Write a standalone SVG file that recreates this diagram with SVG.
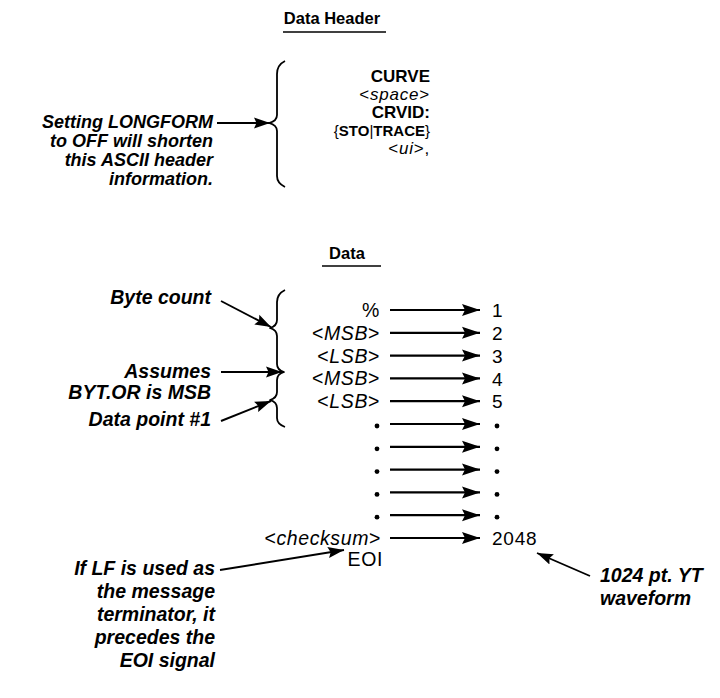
<svg xmlns="http://www.w3.org/2000/svg" width="720" height="698" viewBox="0 0 720 698">
<style>
text{font-family:"Liberation Sans",Arial,sans-serif;font-size:18px;fill:#000}
.t{font-weight:bold;font-size:16.5px}
.h{font-size:17px;text-anchor:end}
.hs{font-size:15px;text-anchor:end}
.hr{font-size:17px;text-anchor:end;letter-spacing:0.8px}
.n{font-weight:bold;font-style:italic;text-anchor:end}
.m{font-size:19.5px}
.r{text-anchor:end;font-size:19.5px;letter-spacing:0.6px}
.d{font-size:19px;letter-spacing:0.8px}
.i{font-style:italic}
.b{font-weight:bold}
.br{fill:none;stroke:#000;stroke-width:1.8;stroke-linejoin:round}
.u{stroke:#000;stroke-width:1.6}
.a{stroke:#000;stroke-width:2.2;fill:none;marker-end:url(#ah)}
.c{stroke:#000;stroke-width:1.9;fill:none;marker-end:url(#ah2)}
</style>
<defs>
<marker id="ah" markerUnits="userSpaceOnUse" markerWidth="19" markerHeight="13" refX="18" refY="6.5" orient="auto"><path d="M0,0.5 L18,6.5 L0,12.5 L3,6.5 z" fill="#000"/></marker>
<marker id="ah2" markerUnits="userSpaceOnUse" markerWidth="17" markerHeight="12" refX="16" refY="6" orient="auto"><path d="M0,0.5 L16,6 L0,11.5 L2.5,6 z" fill="#000"/></marker>
</defs>

<g id="title-header">
<text class="t" x="332" y="24" text-anchor="middle">Data Header</text>
<line class="u" x1="283" y1="32" x2="386" y2="32"/>
</g>

<g id="header-brace">
<path class="br" d="M285,61 Q277,65 277,74 L277,115 Q277,121 269,123 Q277,125 277,131 L277,176 Q277,183 285,187"/>
</g>

<g id="header-fields">
<text class="h b" x="430" y="82">CURVE</text>
<text class="hr" x="430" y="100">&lt;<tspan class="i">space</tspan>&gt;</text>
<text class="h b" x="430" y="118">CRVID:</text>
<text class="hs" x="430" y="136">{<tspan class="b">STO</tspan>|<tspan class="b">TRACE</tspan>}</text>
<text class="hr" x="430" y="154">&lt;<tspan class="i">ui</tspan>&gt;,</text>
</g>

<g id="note-longform">
<text class="n" x="213" y="128">Setting LONGFORM</text>
<text class="n" x="213" y="147">to OFF will shorten</text>
<text class="n" x="213" y="166">this ASCII header</text>
<text class="n" x="213" y="185">information.</text>
</g>

<g id="title-data">
<text class="t" x="347" y="259" text-anchor="middle">Data</text>
<line class="u" x1="322" y1="266" x2="381" y2="266"/>
</g>

<g id="data-brace">
<path class="br" d="M285,290 Q277,294 277,302 L277,320 Q277,326 270,328 Q277,330 277,336 L277,364 Q277,370 284,372 Q277,374 277,380 L277,392 Q277,398 270,400 Q277,402 277,408 L277,418 Q277,424 285,427"/>
</g>

<g id="note-bytecount"><text class="n m" x="211" y="304">Byte count</text></g>
<g id="note-bytor">
<text class="n m" x="211" y="378">Assumes</text>
<text class="n m" x="211" y="399">BYT.OR is MSB</text>
</g>
<g id="note-datapoint"><text class="n m" x="211" y="426">Data point #1</text></g>

<g id="row-labels">
<text class="r" x="380" y="317">%</text>
<text class="r" x="380" y="339.8">&lt;<tspan class="i">MSB</tspan>&gt;</text>
<text class="r" x="380" y="362.6">&lt;<tspan class="i">LSB</tspan>&gt;</text>
<text class="r" x="380" y="385.4">&lt;<tspan class="i">MSB</tspan>&gt;</text>
<text class="r" x="380" y="408.2">&lt;<tspan class="i">LSB</tspan>&gt;</text>
<circle cx="377" cy="426" r="2.4"/>
<circle cx="377" cy="448.8" r="2.4"/>
<circle cx="377" cy="471.6" r="2.4"/>
<circle cx="377" cy="494.4" r="2.4"/>
<circle cx="377" cy="517.2" r="2.4"/>
<text class="r" x="381" y="545">&lt;<tspan class="i">checksum</tspan>&gt;</text>
<text class="r" x="383" y="566" letter-spacing="0">EOI</text>
</g>

<g id="row-numbers">
<text class="d" x="492" y="317">1</text>
<text class="d" x="492" y="340">2</text>
<text class="d" x="492" y="363">3</text>
<text class="d" x="492" y="385.5">4</text>
<text class="d" x="492" y="408">5</text>
<circle cx="497" cy="426" r="2.4"/>
<circle cx="497" cy="448.8" r="2.4"/>
<circle cx="497" cy="471.6" r="2.4"/>
<circle cx="497" cy="494.4" r="2.4"/>
<circle cx="497" cy="517.2" r="2.4"/>
<text class="d" x="492" y="545">2048</text>
</g>

<g id="note-lf">
<text class="n m" x="215" y="575">If LF is used as</text>
<text class="n m" x="215" y="598">the message</text>
<text class="n m" x="215" y="621">terminator, it</text>
<text class="n m" x="215" y="644">precedes the</text>
<text class="n m" x="215" y="667">EOI signal</text>
</g>

<g id="note-waveform">
<text class="b i m" x="600" y="582">1024 pt. YT</text>
<text class="b i m" x="600" y="605">waveform</text>
</g>

<g id="connectors">
<line class="c" x1="217" y1="123" x2="270" y2="123"/>
<line class="c" x1="221" y1="301" x2="271" y2="327"/>
<line class="c" x1="221" y1="372" x2="282" y2="372"/>
<line class="c" x1="221" y1="421" x2="271" y2="401"/>
<line class="c" x1="220" y1="570" x2="344" y2="550"/>
<line class="c" x1="590" y1="576" x2="537" y2="553"/>
<line class="a" x1="390" y1="310" x2="480" y2="310"/>
<line class="a" x1="390" y1="332.8" x2="480" y2="332.8"/>
<line class="a" x1="390" y1="355.6" x2="480" y2="355.6"/>
<line class="a" x1="390" y1="378.4" x2="480" y2="378.4"/>
<line class="a" x1="390" y1="401.2" x2="480" y2="401.2"/>
<line class="a" x1="390" y1="424" x2="480" y2="424"/>
<line class="a" x1="390" y1="446.8" x2="480" y2="446.8"/>
<line class="a" x1="390" y1="469.6" x2="480" y2="469.6"/>
<line class="a" x1="390" y1="492.4" x2="480" y2="492.4"/>
<line class="a" x1="390" y1="515.2" x2="480" y2="515.2"/>
<line class="a" x1="390" y1="538" x2="480" y2="538"/>
</g>
</svg>
